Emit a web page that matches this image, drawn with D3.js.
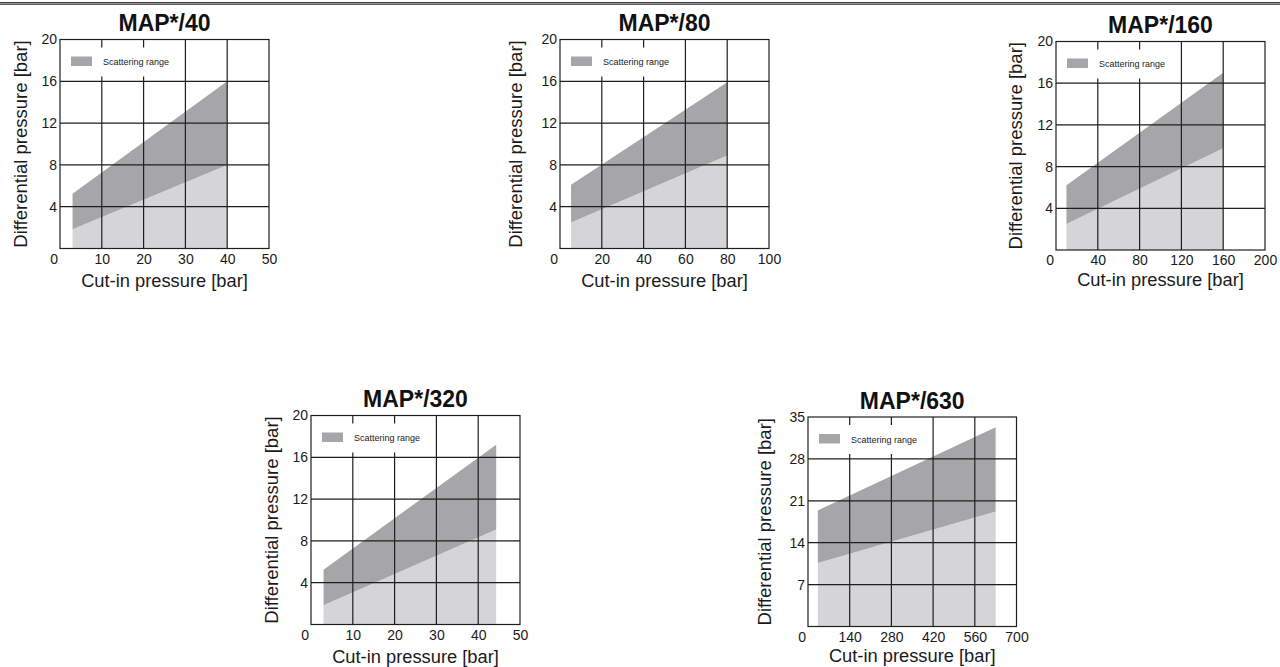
<!DOCTYPE html>
<html>
<head>
<meta charset="utf-8">
<script src="https://cdn.jsdelivr.net/npm/d3@7"></script>
<style>
  html, body { margin: 0; padding: 0; background: #fff; }
  svg { display: block; font-family: "Liberation Sans", Arial, Helvetica, sans-serif; }
</style>
</head>
<body>
<svg id="chart" width="1280" height="667"></svg>
<script>
// ---------- data ----------
const titles = ["MAP*/40", "MAP*/80", "MAP*/160", "MAP*/320", "MAP*/630"];
const xMaxes = [50, 100, 200, 50, 700];
const yMaxes = [20, 20, 20, 20, 35];
const xTickLabels = [
  [0, 10, 20, 30, 40, 50],
  [0, 20, 40, 60, 80, 100],
  [0, 40, 80, 120, 160, 200],
  [0, 10, 20, 30, 40, 50],
  [0, 140, 280, 420, 560, 700]
];
const yTickLabels = [
  [4, 8, 12, 16, 20],
  [4, 8, 12, 16, 20],
  [4, 8, 12, 16, 20],
  [4, 8, 12, 16, 20],
  [7, 14, 21, 28, 35]
];
// scattering band: cut-in pressure at start/end, upper and lower differential pressure
const bandX     = [[3, 40],     [5.3, 80],   [10, 160],   [3, 44.3],    [33, 630]];
const bandUpper = [[5.25, 16],  [6.1, 15.9], [6.2, 17.0], [5.25, 17.2], [19.4, 33.3]];
const bandLower = [[1.85, 8],   [2.5, 8.9],  [2.5, 9.75], [1.85, 9.1],  [10.6, 19.2]];
const legendLabel = "Scattering range";
const xAxisTitle = "Cut-in pressure [bar]";
const yAxisTitle = "Differential pressure [bar]";

// ---------- layout ----------
const boxes = [
  { x: 60,   y: 39.5,  w: 209,   h: 209,   yt: 39.5, xt: 38 },
  { x: 560,  y: 39.5,  w: 209,   h: 209,   yt: 44,   xt: 38 },
  { x: 1056, y: 41.5,  w: 209,   h: 208.5, yt: 40,   xt: 35.5 },
  { x: 311,  y: 415.5, w: 209,   h: 209,   yt: 39.5, xt: 38.5 },
  { x: 808,  y: 417,   w: 208.5, h: 209.5, yt: 43,   xt: 35.5 }
];
const darkFill = "#a6a6a9";
const lightFill = "#d5d5d7";
const gridColor = "#1e1e1e";

const svg = d3.select("#chart");

// top rule
svg.append("rect").attr("x", 0).attr("y", 2).attr("width", 1280).attr("height", 3).attr("fill", "#9a9a9a");
svg.append("line").attr("x1", 0).attr("x2", 1280).attr("y1", 2.5).attr("y2", 2.5).attr("stroke", "#3a3a3a").attr("stroke-width", 1);
svg.append("line").attr("x1", 0).attr("x2", 1280).attr("y1", 4.5).attr("y2", 4.5).attr("stroke", "#5a5a5a").attr("stroke-width", 1);

titles.forEach((title, i) => {
  const b = boxes[i];
  const g = svg.append("g").attr("transform", `translate(${b.x},${b.y})`);
  const x = d3.scaleLinear().domain([0, xMaxes[i]]).range([0, b.w]);
  const y = d3.scaleLinear().domain([0, yMaxes[i]]).range([b.h, 0]);

  // bands
  const pts = bandX[i].map((xv, k) => ({ x: xv, u: bandUpper[i][k], l: bandLower[i][k] }));
  g.append("path").datum(pts)
    .attr("d", d3.area().x(d => x(d.x)).y0(() => y(0)).y1(d => y(d.l)))
    .attr("fill", lightFill);
  g.append("path").datum(pts)
    .attr("d", d3.area().x(d => x(d.x)).y0(d => y(d.l)).y1(d => y(d.u)))
    .attr("fill", darkFill);

  // grid lines
  const xg = xTickLabels[i].filter(v => v > 0 && v < xMaxes[i]);
  const yg = yTickLabels[i].filter(v => v > 0 && v < yMaxes[i]);

  g.append("g").selectAll("line").data(xg).join("line")
    .attr("x1", d => x(d)).attr("x2", d => x(d)).attr("y1", 0).attr("y2", b.h)
    .attr("stroke", gridColor).attr("stroke-width", 1.2);
  // white legend box (grid hidden behind legend)
  g.append("rect").attr("x", 1).attr("y", 8).attr("width", 115).attr("height", 29).attr("fill", "#fff");
  g.append("g").selectAll("line").data(yg).join("line")
    .attr("x1", 0).attr("x2", b.w).attr("y1", d => y(d)).attr("y2", d => y(d))
    .attr("stroke", gridColor).attr("stroke-width", 1.2);

  // legend
  g.append("rect").attr("x", 11).attr("y", 17).attr("width", 21).attr("height", 9.5).attr("fill", darkFill);
  g.append("text").attr("x", 43).attr("y", 25.5).attr("font-size", 9).attr("fill", "#222").text(legendLabel);

  // frame
  g.append("rect").attr("x", 0).attr("y", 0).attr("width", b.w).attr("height", b.h)
    .attr("fill", "none").attr("stroke", gridColor).attr("stroke-width", 1.2);

  // axes
  const xa = g.append("g").attr("transform", `translate(0,${b.h})`)
    .call(d3.axisBottom(x).tickValues(xTickLabels[i]).tickSize(0).tickPadding(0).tickFormat(d3.format("d")));
  xa.select(".domain").remove();
  xa.selectAll("text").attr("font-size", 14).attr("fill", "#1a1a1a").attr("dy", null).attr("y", 15)
    .attr("font-family", "Liberation Sans, Arial, sans-serif");
  xa.selectAll(".tick").filter(d => d === 0).select("text").attr("text-anchor", "end").attr("x", -2.5);

  const ya = g.append("g")
    .call(d3.axisLeft(y).tickValues(yTickLabels[i]).tickSize(0).tickPadding(3).tickFormat(d3.format("d")));
  ya.select(".domain").remove();
  ya.selectAll("text").attr("font-size", 14).attr("fill", "#1a1a1a")
    .attr("font-family", "Liberation Sans, Arial, sans-serif");

  // titles
  g.append("text").attr("x", b.w / 2).attr("y", -8.5).attr("text-anchor", "middle")
    .attr("font-size", 23).attr("font-weight", "bold").attr("fill", "#111").text(title);
  g.append("text").attr("x", b.w / 2).attr("y", b.h + b.xt).attr("text-anchor", "middle")
    .attr("font-size", 18.3).attr("fill", "#1a1a1a").text(xAxisTitle);
  g.append("text").attr("transform", `translate(${-b.yt},${b.h / 2}) rotate(-90)`)
    .attr("text-anchor", "middle").attr("dy", "0.35em")
    .attr("font-size", 18.5).attr("fill", "#1a1a1a").text(yAxisTitle);
});
</script>
</body>
</html>
